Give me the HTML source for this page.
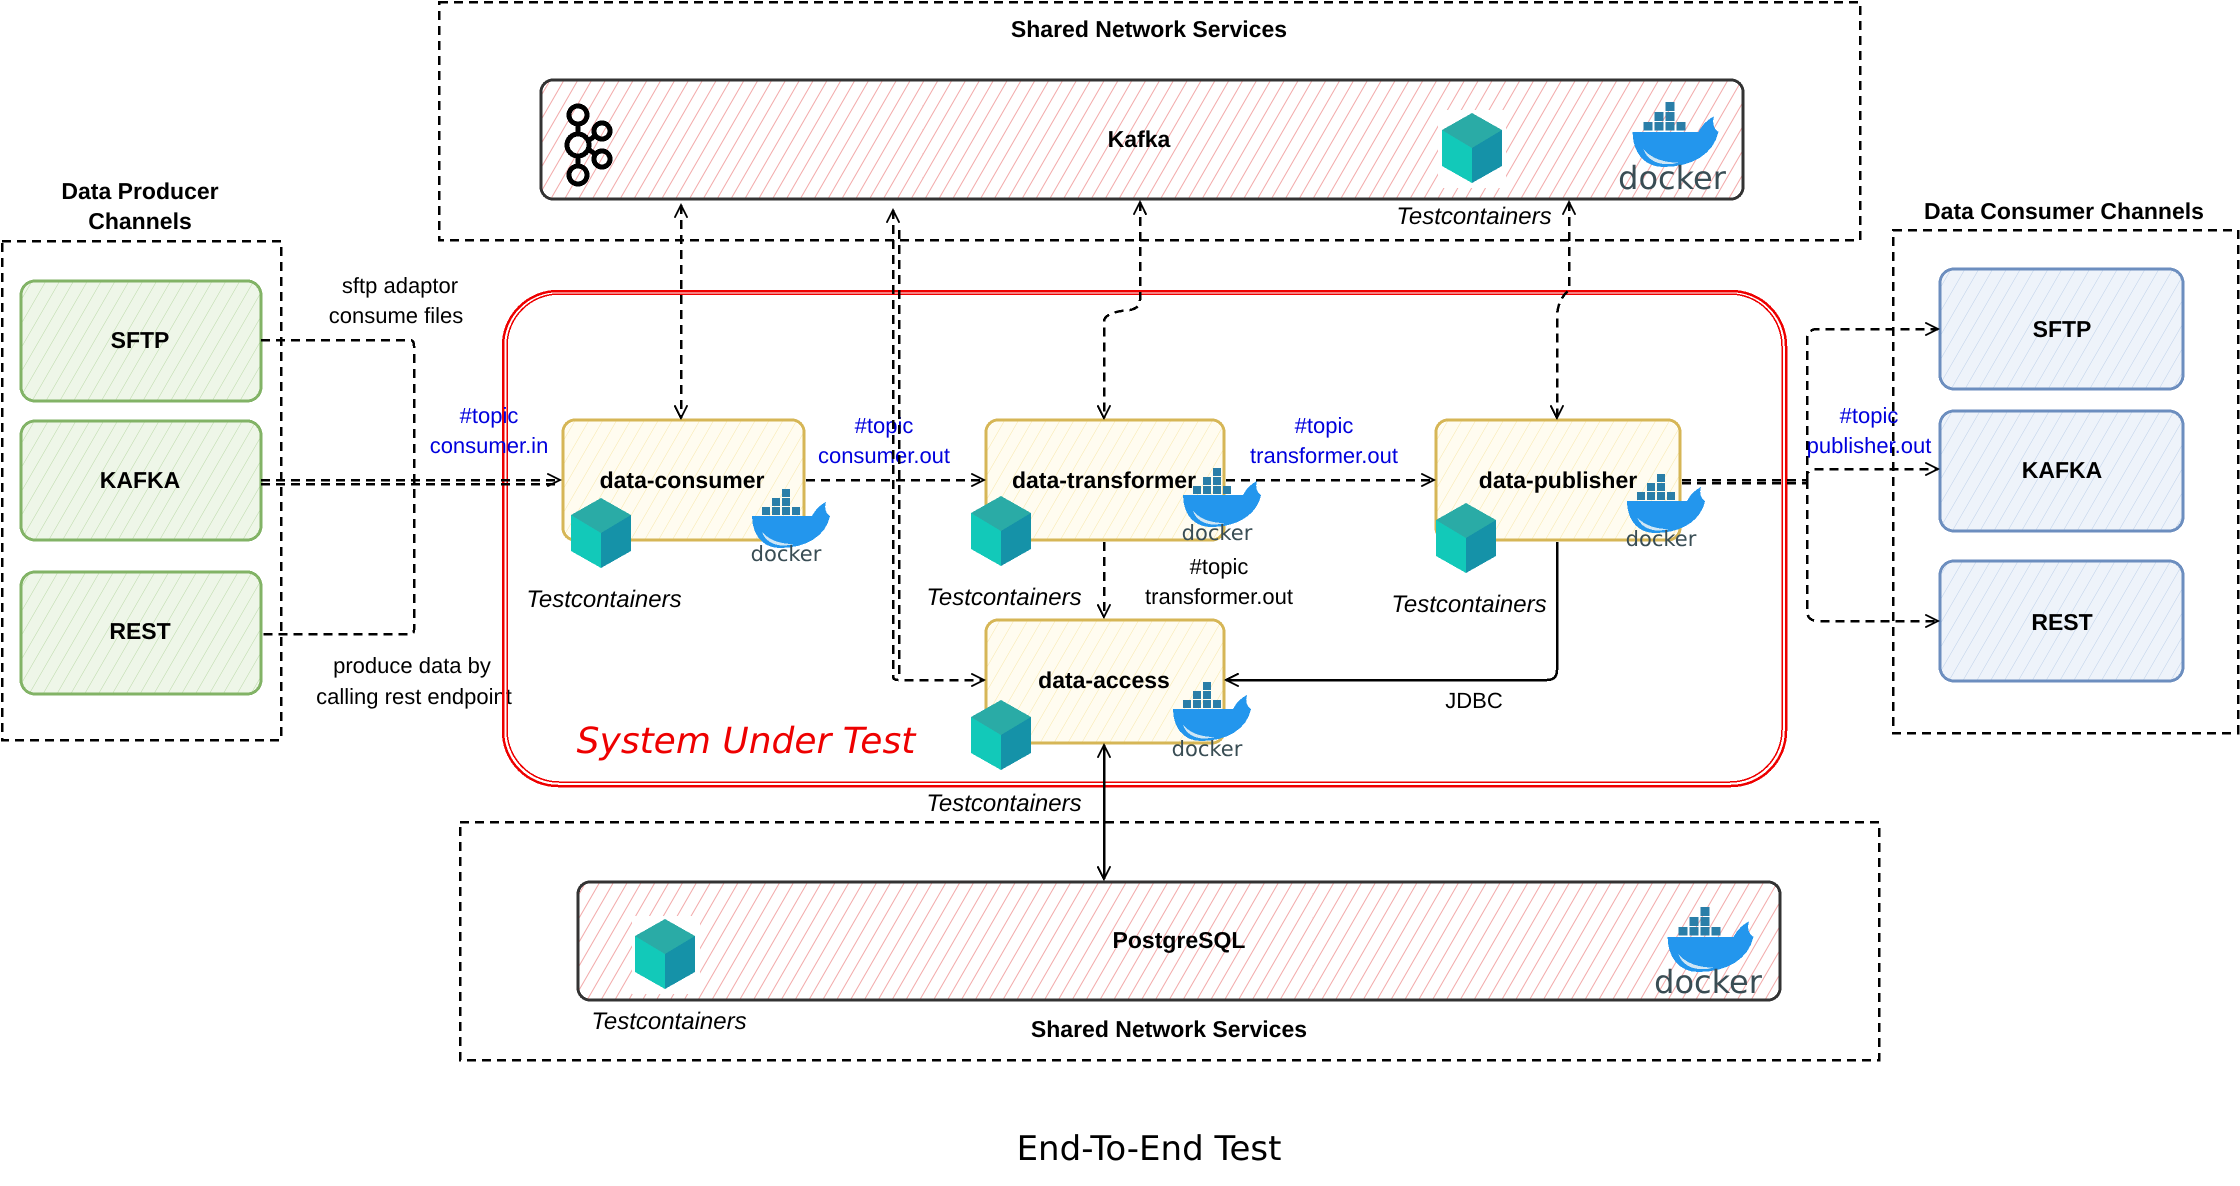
<!DOCTYPE html>
<html><head><meta charset="utf-8"><style>
html,body{margin:0;padding:0;background:#fff;}
svg{display:block;}
.b{font-family:"Liberation Sans",sans-serif;font-weight:bold;font-size:23px;fill:#000;text-anchor:middle;}
.n{font-family:"Liberation Sans",sans-serif;font-size:22px;fill:#000;text-anchor:middle;}
.bl{font-family:"Liberation Sans",sans-serif;font-size:22px;fill:#0000dd;text-anchor:middle;}
.tc{font-family:"Liberation Sans",sans-serif;font-style:italic;font-size:24px;fill:#000;text-anchor:middle;}
.dk{font-family:"DejaVu Sans",sans-serif;font-size:21px;fill:#394d54;text-anchor:middle;}
.hand{font-family:"DejaVu Sans",sans-serif;font-size:36px;text-anchor:middle;}
</style></head><body>
<svg width="2240" height="1186" viewBox="0 0 2240 1186" xmlns="http://www.w3.org/2000/svg" shape-rendering="crispEdges" text-rendering="geometricPrecision">
<defs>
<pattern id="pk" width="12" height="12" patternUnits="userSpaceOnUse" patternTransform="rotate(30)"><rect width="12" height="12" fill="#fff"/><line x1="0" y1="0" x2="0" y2="12" stroke="#f2a9a9" stroke-width="1.6"/></pattern>
<pattern id="gr" width="12" height="12" patternUnits="userSpaceOnUse" patternTransform="rotate(30)"><rect width="12" height="12" fill="#eef6e8"/><line x1="0" y1="0" x2="0" y2="12" stroke="#b9d8a6" stroke-width="1.4"/></pattern>
<pattern id="yl" width="12" height="12" patternUnits="userSpaceOnUse" patternTransform="rotate(30)"><rect width="12" height="12" fill="#fffcf0"/><line x1="0" y1="0" x2="0" y2="12" stroke="#f7e6a8" stroke-width="1.4"/></pattern>
<pattern id="bu" width="12" height="12" patternUnits="userSpaceOnUse" patternTransform="rotate(30)"><rect width="12" height="12" fill="#eef3fa"/><line x1="0" y1="0" x2="0" y2="12" stroke="#bccfe8" stroke-width="1.4"/></pattern>
<marker id="ar" viewBox="0 0 20 20" refX="18" refY="10" markerWidth="16" markerHeight="16" orient="auto-start-reverse" markerUnits="userSpaceOnUse"><path d="M2,2 L18,10 L2,18" fill="none" stroke="#000" stroke-width="2.5"/></marker>
<g id="cube"><polygon points="0,-35 30,-18 0,0 -30,-18" fill="#2aaba6"/><polygon points="-30,-18 0,0 0,35 -30,18" fill="#12c9b9"/><polygon points="30,-18 0,0 0,35 30,18" fill="#1592a8"/></g>
<g id="whale"><rect x="-14" y="-30" width="8" height="8" fill="#2a7ea8"/><rect x="-24" y="-21" width="8" height="8" fill="#2a7ea8"/><rect x="-14" y="-21" width="8" height="8" fill="#2a7ea8"/><rect x="-4" y="-21" width="8" height="8" fill="#2a7ea8"/><rect x="-4" y="-39" width="8" height="8" fill="#2a7ea8"/><rect x="-4" y="-30" width="8" height="8" fill="#2a7ea8"/><rect x="6" y="-21" width="8" height="8" fill="#2a7ea8"/><path d="M-34,-12 L26,-12 C30,-20 36,-24 40,-26 C38,-20 40,-14 44,-12 C40,8 20,20 -6,20 C-24,20 -34,6 -34,-12 Z" fill="#2396ed"/><path d="M-24,4 C-14,16 4,16 8,16 C-6,20 -20,16 -24,4Z" fill="#cfe6f5"/></g>
</defs>

<rect x="439" y="2" width="1421" height="238" fill="none" stroke="#000" stroke-width="2.5" stroke-dasharray="9,6"/>
<text class="b" x="1149" y="37">Shared Network Services</text>
<rect x="541" y="80" width="1202" height="119" rx="12" fill="url(#pk)" stroke="#333" stroke-width="3"/>
<text class="b" x="1139" y="147">Kafka</text>
<g fill="none" stroke="#000" stroke-width="5"><circle cx="578" cy="115" r="9"/><circle cx="578" cy="145" r="11"/><circle cx="578" cy="175" r="9"/><circle cx="602" cy="131" r="8"/><circle cx="602" cy="159" r="8"/><line x1="578" y1="124" x2="578" y2="134"/><line x1="578" y1="156" x2="578" y2="166"/><line x1="588" y1="141" x2="595" y2="136"/><line x1="588" y1="149" x2="595" y2="154"/></g>
<rect x="1438" y="110" width="68" height="78" fill="#fff"/>
<use href="#cube" x="1472" y="148"/>
<use href="#whale" transform="translate(1670 145) scale(1.1)"/>
<text class="dk" x="1672" y="189" style="font-size:32px">docker</text>
<text class="tc" x="1474" y="224">Testcontainers</text>

<text class="b" x="140" y="199">Data Producer</text>
<text class="b" x="140" y="229">Channels</text>
<rect x="2" y="241" width="279" height="499" fill="none" stroke="#000" stroke-width="2.5" stroke-dasharray="9,6"/>
<rect x="21" y="281" width="240" height="120" rx="14" fill="url(#gr)" stroke="#82b366" stroke-width="3"/>
<text class="b" x="140" y="348">SFTP</text>
<rect x="21" y="421" width="240" height="119" rx="14" fill="url(#gr)" stroke="#82b366" stroke-width="3"/>
<text class="b" x="140" y="488">KAFKA</text>
<rect x="21" y="572" width="240" height="122" rx="14" fill="url(#gr)" stroke="#82b366" stroke-width="3"/>
<text class="b" x="140" y="639">REST</text>
<text class="n" x="400" y="293">sftp adaptor</text>
<text class="n" x="396" y="323">consume files</text>
<text class="n" x="412" y="673">produce data by</text>
<text class="n" x="414" y="704">calling rest endpoint</text>

<text class="b" x="2064" y="219">Data Consumer Channels</text>
<rect x="1893" y="230" width="345" height="503" fill="none" stroke="#000" stroke-width="2.5" stroke-dasharray="9,6"/>
<rect x="1940" y="269" width="243" height="120" rx="14" fill="url(#bu)" stroke="#6c8ebf" stroke-width="3"/>
<text class="b" x="2062" y="337">SFTP</text>
<rect x="1940" y="411" width="243" height="120" rx="14" fill="url(#bu)" stroke="#6c8ebf" stroke-width="3"/>
<text class="b" x="2062" y="478">KAFKA</text>
<rect x="1940" y="561" width="243" height="120" rx="14" fill="url(#bu)" stroke="#6c8ebf" stroke-width="3"/>
<text class="b" x="2062" y="630">REST</text>

<rect x="503" y="291" width="1283" height="495" rx="55" fill="none" stroke="#e00" stroke-width="2.5"/>
<rect x="507" y="294" width="1275" height="488" rx="52" fill="none" stroke="#e00" stroke-width="1.5"/>
<text class="hand" x="746" y="753" fill="#e00" style="font-style:italic">System Under Test</text>

<rect x="563" y="420" width="241" height="120" rx="12" fill="url(#yl)" stroke="#d6b656" stroke-width="3"/>
<text class="b" x="682" y="488">data-consumer</text>
<rect x="986" y="420" width="238" height="120" rx="12" fill="url(#yl)" stroke="#d6b656" stroke-width="3"/>
<text class="b" x="1104" y="488">data-transformer</text>
<rect x="1436" y="420" width="244" height="120" rx="12" fill="url(#yl)" stroke="#d6b656" stroke-width="3"/>
<text class="b" x="1558" y="488">data-publisher</text>
<rect x="986" y="620" width="238" height="123" rx="12" fill="url(#yl)" stroke="#d6b656" stroke-width="3"/>
<text class="b" x="1104" y="688">data-access</text>

<use href="#cube" x="601" y="533"/>
<use href="#cube" x="1001" y="531"/>
<use href="#cube" x="1466" y="538"/>
<use href="#cube" x="1001" y="735"/>
<use href="#whale" x="786" y="528"/><text class="dk" x="786" y="561">docker</text>
<use href="#whale" x="1217" y="507"/><text class="dk" x="1217" y="540">docker</text>
<use href="#whale" x="1661" y="513"/><text class="dk" x="1661" y="546">docker</text>
<use href="#whale" x="1207" y="721"/><text class="dk" x="1207" y="756">docker</text>

<text class="tc" x="604" y="607">Testcontainers</text>
<text class="tc" x="1004" y="605">Testcontainers</text>
<text class="tc" x="1469" y="612">Testcontainers</text>
<text class="tc" x="1004" y="811">Testcontainers</text>

<text class="bl" x="489" y="423">#topic</text><text class="bl" x="489" y="453">consumer.in</text>
<text class="bl" x="884" y="433">#topic</text><text class="bl" x="884" y="463">consumer.out</text>
<text class="bl" x="1324" y="433">#topic</text><text class="bl" x="1324" y="463">transformer.out</text>
<text class="bl" x="1869" y="423">#topic</text><text class="bl" x="1869" y="453">publisher.out</text>
<text class="n" x="1219" y="574">#topic</text><text class="n" x="1219" y="604">transformer.out</text>
<text class="n" x="1474" y="708">JDBC</text>

<rect x="460" y="822" width="1419" height="238" fill="none" stroke="#000" stroke-width="2.5" stroke-dasharray="9,6"/>
<rect x="578" y="882" width="1202" height="118" rx="12" fill="url(#pk)" stroke="#333" stroke-width="3"/>
<rect x="632" y="916" width="68" height="78" fill="#fff"/>
<use href="#cube" x="665" y="954"/>
<text class="b" x="1179" y="948">PostgreSQL</text>
<use href="#whale" transform="translate(1705 950) scale(1.1)"/>
<text class="dk" x="1708" y="993" style="font-size:32px">docker</text>
<text class="tc" x="669" y="1029">Testcontainers</text>
<text class="b" x="1169" y="1037">Shared Network Services</text>

<text class="hand" x="1149" y="1160" fill="#000" style="font-size:34px">End-To-End Test</text>

<g fill="none" stroke="#000" stroke-width="2.5" stroke-dasharray="9,6">
<path d="M261,340 L410,340 Q414,340 414,346 L414,630 Q414,634 410,634 L261,634"/>
<path d="M261,480 L560,480" marker-end="url(#ar)"/>
<path d="M261,484 L558,484"/>
<path d="M681,205 L681,418" marker-start="url(#ar)" marker-end="url(#ar)"/>
<path d="M893,210 L893,676 Q893,680 898,680 L984,680" marker-start="url(#ar)" marker-end="url(#ar)"/>
<path d="M899,230 L899,674"/>
<path d="M1140,202 L1140,300 Q1140,308 1130,310 Q1104,312 1104,322 L1104,418" marker-start="url(#ar)" marker-end="url(#ar)"/>
<path d="M1569,202 L1569,290 Q1557,300 1557,318 L1557,418" marker-start="url(#ar)" marker-end="url(#ar)"/>
<path d="M806,480 L984,480" marker-end="url(#ar)"/>
<path d="M1226,480 L1434,480" marker-end="url(#ar)"/>
<path d="M1104,542 L1104,617" marker-end="url(#ar)"/>
<path d="M1682,480 L1807,480"/>
<path d="M1682,483 L1807,483"/>
<path d="M1807,480 L1807,340 Q1807,329 1818,329 L1938,329" marker-end="url(#ar)"/>
<path d="M1807,480 L1807,474 Q1810,469 1820,469 L1938,469" marker-end="url(#ar)"/>
<path d="M1807,480 L1807,610 Q1807,621 1818,621 L1938,621" marker-end="url(#ar)"/>
</g>
<path d="M1557,542 L1557,670 Q1557,680 1547,680 L1226,680" fill="none" stroke="#000" stroke-width="2.5" marker-end="url(#ar)"/>
<path d="M1104,745 L1104,879" fill="none" stroke="#000" stroke-width="2.5" marker-start="url(#ar)" marker-end="url(#ar)"/>
</svg>
</body></html>
